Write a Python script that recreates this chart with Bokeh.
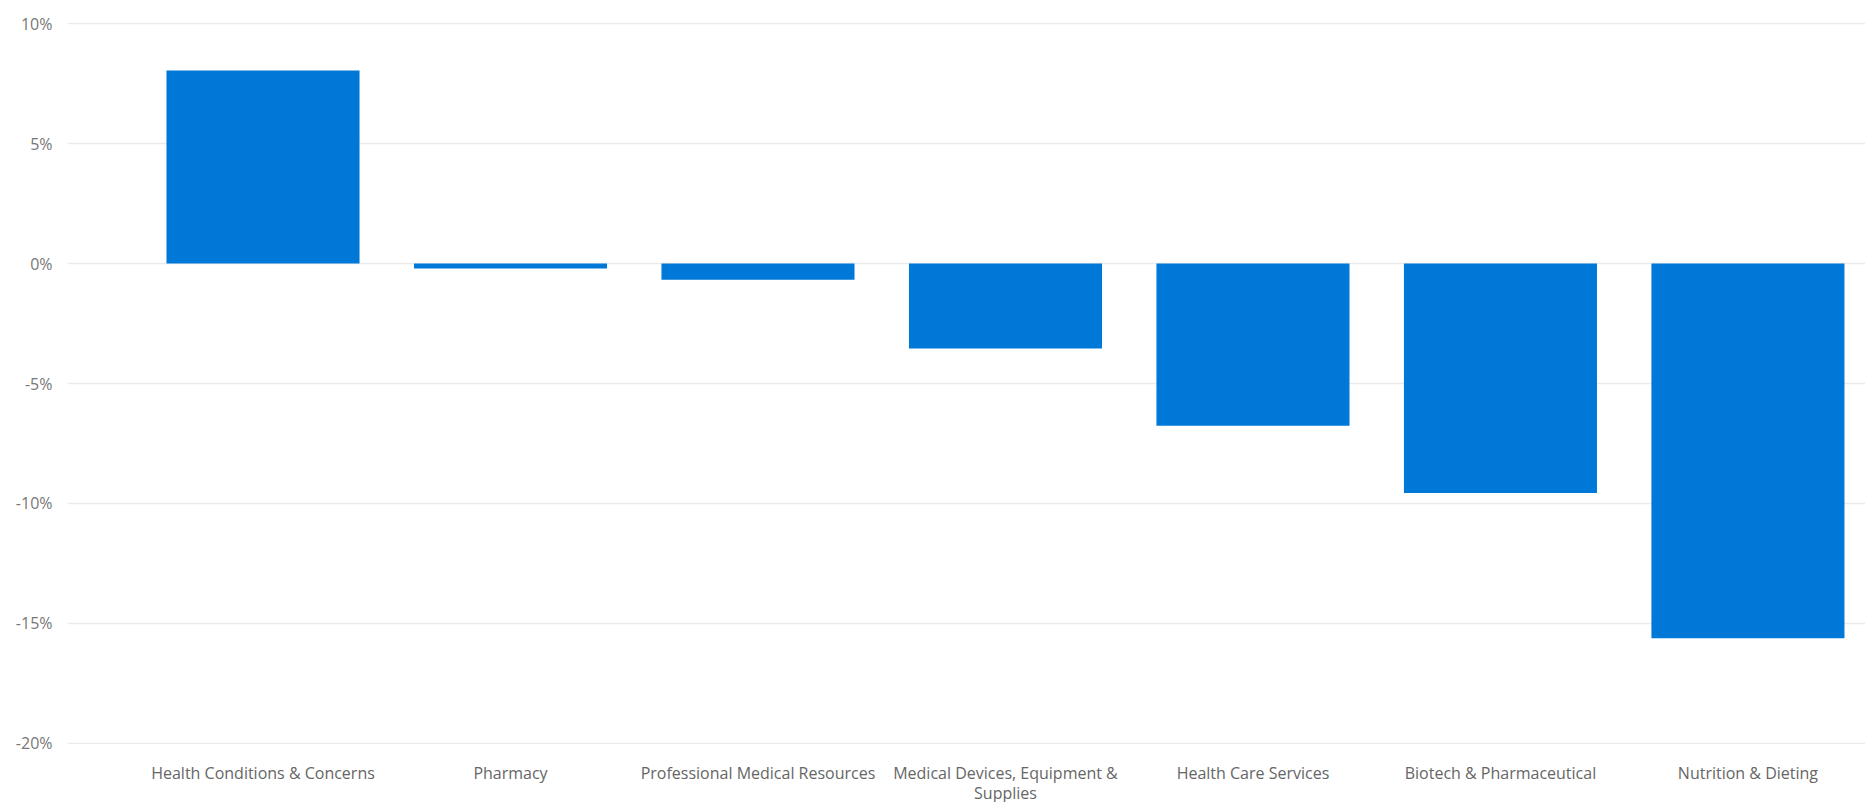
from bokeh.plotting import figure
from bokeh.models import ColumnDataSource, Range1d, FixedTicker, PrintfTickFormatter
from bokeh.embed import file_html
from bokeh.resources import INLINE

categories = [
    "Health Conditions & Concerns",
    "Pharmacy",
    "Professional Medical Resources",
    "Medical Devices, Equipment &\nSupplies",
    "Health Care Services",
    "Biotech & Pharmaceutical",
    "Nutrition & Dieting",
]
change_pct = [8.05, -0.21, -0.67, -3.54, -6.76, -9.57, -15.62]
y_ticks = [-20, -15, -10, -5, 0, 5, 10]

positions = list(range(len(categories)))
source = ColumnDataSource(data=dict(x=positions, top=change_pct))

p = figure(
    frame_width=1798,
    frame_height=722,
    output_backend="svg",
    toolbar_location=None,
    x_range=Range1d(-0.79, len(categories) - 1 + 0.475),
    y_range=Range1d(-20.05, 10.05),
    min_border_left=67,
    min_border_right=0,
    min_border_top=22,
    min_border_bottom=20,
)
p.outline_line_color = None
p.background_fill_color = "white"
p.border_fill_color = "white"

p.vbar(x="x", top="top", bottom=0, width=0.78, source=source,
       fill_color="#0078D7", line_color=None)

p.xaxis.ticker = FixedTicker(ticks=positions)
p.xaxis.major_label_overrides = {i: c for i, c in enumerate(categories)}
p.yaxis.ticker = FixedTicker(ticks=y_ticks)
p.yaxis.formatter = PrintfTickFormatter(format="%d%%")

for ax in (p.xaxis, p.yaxis):
    ax.axis_line_color = None
    ax.major_tick_line_color = None
    ax.minor_tick_line_color = None
    ax.major_tick_out = 0
    ax.major_tick_in = 0
    ax.major_label_text_font = "Open Sans"
    ax.major_label_text_font_size = "16px"

p.xaxis.major_label_text_color = "#666666"
p.xaxis.major_label_standoff = 17
p.xaxis.major_label_text_line_height = 0.92
p.yaxis.major_label_text_color = "#777777"
p.yaxis.major_label_standoff = 15

p.xgrid.grid_line_color = None
p.ygrid.ticker = FixedTicker(ticks=y_ticks)
p.ygrid.grid_line_color = "#EBEBEB"
p.ygrid.grid_line_width = 1.5

open("out.html", "w").write(file_html(p, INLINE))
